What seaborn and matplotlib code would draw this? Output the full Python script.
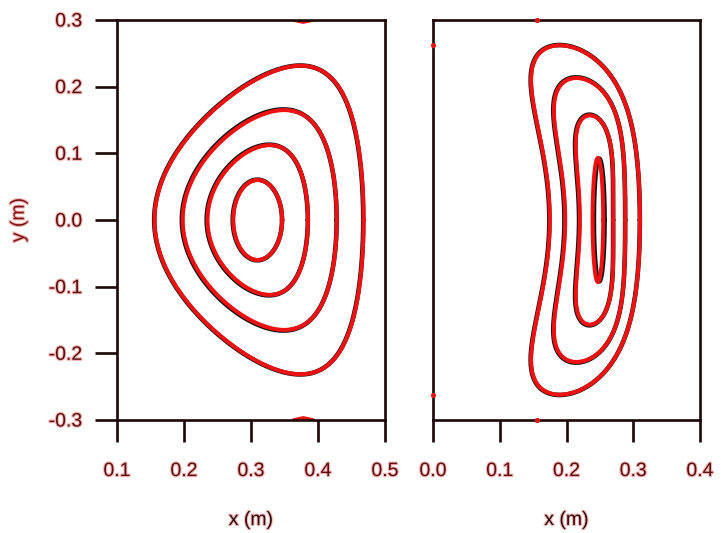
import numpy as np
import pandas as pd
import matplotlib
matplotlib.use("Agg")
import matplotlib.pyplot as plt
import matplotlib.patheffects as pe
import seaborn as sns

# Flux-surface boundaries as Fourier coefficients (innermost surface first)
#   R(t) = R0 + R1 cos t + R2 cos 2t + R3 cos 3t
#   Z(t) = Z1 sin t + Z2 sin 2t
# Left cross-section (triangular surfaces), computed (red) and measured (black)
left_R0 = [0.310, 0.3165, 0.3247, 0.3307]
left_R1 = [0.0365, 0.075, 0.115, 0.156]
left_R2 = [0.0, -0.0065, -0.0117, -0.0187]
left_R3 = [0.0, 0.0, 0.0, 0.0]
left_Z1 = [0.060, 0.112, 0.1637, 0.228]
left_Z2 = [0.0, 0.004, 0.010, 0.020]

left_meas_R0 = [0.3095, 0.3158, 0.3240, 0.3302]
left_meas_R1 = [0.0368, 0.0755, 0.1155, 0.1560]
left_meas_R2 = [0.0, -0.0065, -0.0117, -0.0187]
left_meas_R3 = [0.0, 0.0, 0.0, 0.0]
left_meas_Z1 = [0.0605, 0.1128, 0.1648, 0.2284]
left_meas_Z2 = [0.0, 0.0035, 0.0095, 0.0197]

# Short arcs where the next (outer) surface grazes the top and bottom edges
left_arc_x = [0.364, 0.378, 0.392]
left_arc_top = [0.3005, 0.2975, 0.3005]
left_arc_bottom = [-0.3005, -0.2975, -0.3005]

# Right cross-section (bean-shaped surfaces)
right_R0 = [0.247, 0.240, 0.229, 0.21625]
right_R1 = [0.008, 0.031, 0.056, 0.0815]
right_R2 = [0.0, 0.005, 0.014, 0.02625]
right_R3 = [0.0, -0.006, -0.011, -0.014]
right_Z1 = [0.093, 0.157, 0.213, 0.262]
right_Z2 = [0.0, 0.0, 0.0, 0.0]

right_meas_R0 = [0.2490, 0.2393, 0.2284, 0.2158]
right_meas_R1 = [0.008, 0.0315, 0.0565, 0.0818]
right_meas_R2 = [0.0, 0.005, 0.014, 0.02625]
right_meas_R3 = [0.0, -0.006, -0.011, -0.014]
right_meas_Z1 = [0.092, 0.158, 0.214, 0.2625]
right_meas_Z2 = [0.0, 0.0, 0.0, 0.0]

# Isolated field-line hits of an outer surface on the right section
right_hit_x = [0.0, 0.0, 0.156, 0.156]
right_hit_y = [0.262, -0.262, 0.300, -0.300]

left_xticks = [0.1, 0.2, 0.3, 0.4, 0.5]
left_xticklabels = ["0.1", "0.2", "0.3", "0.4", "0.5"]
right_xticks = [0.0, 0.1, 0.2, 0.3, 0.4]
right_xticklabels = ["0.0", "0.1", "0.2", "0.3", "0.4"]
yticks = [-0.3, -0.2, -0.1, 0.0, 0.1, 0.2, 0.3]
yticklabels = ["-0.3", "-0.2", "-0.1", "0.0", "0.1", "0.2", "0.3"]


def surfaces(R0, R1, R2, R3, Z1, Z2):
    t = np.linspace(0.0, 2.0 * np.pi, 721)
    frames = []
    for k in range(len(R0)):
        R = R0[k] + R1[k] * np.cos(t) + R2[k] * np.cos(2 * t) + R3[k] * np.cos(3 * t)
        Z = Z1[k] * np.sin(t) + Z2[k] * np.sin(2 * t)
        frames.append(pd.DataFrame({"R": R, "Z": Z, "surface": k}))
    return pd.concat(frames, ignore_index=True)


sns.set_style("white")
plt.rcParams["font.family"] = ["Liberation Sans", "DejaVu Sans"]

SPINE = "#1c0606"
TICKTXT = "#5a0e0e"
RED = "#ee1111"
halo = [pe.withStroke(linewidth=1.6, foreground="#f4b4b4")]

fig = plt.figure(figsize=(7.21, 5.33), dpi=100)
axL = fig.add_axes([0.1623, 0.212, 0.3717, 0.7505])
axR = fig.add_axes([0.6006, 0.212, 0.3703, 0.7505])

panels = [
    (axL,
     surfaces(left_meas_R0, left_meas_R1, left_meas_R2, left_meas_R3, left_meas_Z1, left_meas_Z2),
     surfaces(left_R0, left_R1, left_R2, left_R3, left_Z1, left_Z2),
     (0.1, 0.5), left_xticks, left_xticklabels),
    (axR,
     surfaces(right_meas_R0, right_meas_R1, right_meas_R2, right_meas_R3, right_meas_Z1, right_meas_Z2),
     surfaces(right_R0, right_R1, right_R2, right_R3, right_Z1, right_Z2),
     (0.0, 0.4), right_xticks, right_xticklabels),
]

for ax, meas, calc, xlim, xt, xtl in panels:
    sns.lineplot(data=meas, x="R", y="Z", units="surface", estimator=None, sort=False,
                 color="#111111", lw=3.3, ax=ax, legend=False)
    sns.lineplot(data=calc, x="R", y="Z", units="surface", estimator=None, sort=False,
                 color=RED, lw=2.9, ax=ax, legend=False)
    ax.set_xlim(*xlim)
    ax.set_ylim(-0.3, 0.3)
    ax.set_xticks(xt)
    ax.set_xticklabels(xtl, color=TICKTXT, fontsize=14, path_effects=halo)
    for s in ax.spines.values():
        s.set_visible(True)
        s.set_color(SPINE)
        s.set_linewidth(1.9)
    ax.tick_params(axis="x", which="both", direction="out", length=16, width=1.9,
                   color=SPINE, pad=15, top=False, bottom=True)
    ax.set_xlabel("x (m)", fontsize=14, color="#2a0c0c", labelpad=23, path_effects=halo)

for arc_y in (left_arc_top, left_arc_bottom):
    sns.lineplot(x=left_arc_x, y=arc_y, ax=axL, color=RED, lw=3.2, sort=False,
                 estimator=None, legend=False, solid_capstyle="round")

sns.scatterplot(x=right_hit_x, y=right_hit_y, ax=axR, color=RED, s=14, linewidth=0,
                clip_on=False, zorder=5, legend=False)

axL.set_yticks(yticks)
axL.set_yticklabels(yticklabels, color=TICKTXT, fontsize=14, path_effects=halo)
axL.tick_params(axis="y", direction="out", length=16, width=1.9, color=SPINE,
                pad=9, left=True, right=False)
axL.set_ylabel("y (m)", fontsize=14, color="#7a1414", labelpad=15, path_effects=halo)

axR.set_yticks([])
axR.set_ylabel("")

fig.savefig("out.png", dpi=100, facecolor="white")
